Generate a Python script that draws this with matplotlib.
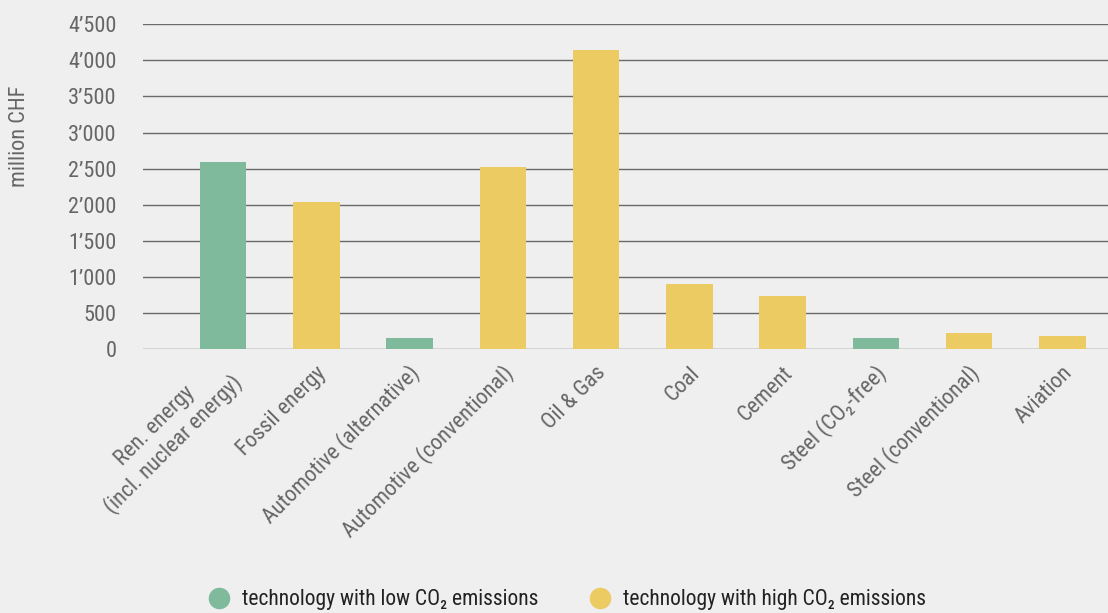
import matplotlib
matplotlib.use("Agg")
import matplotlib.pyplot as plt
from matplotlib.lines import Line2D
from matplotlib.ticker import FuncFormatter

categories = ["Ren. energy\n(incl. nuclear energy)", "Fossil energy", "Automotive (alternative)",
              "Automotive (conventional)", "Oil & Gas", "Coal", "Cement", "Steel (CO₂-free)",
              "Steel (conventional)", "Aviation"]
values = [2590, 2040, 155, 2520, 4140, 900, 735, 152, 222, 180]
low_co2 = [True, False, True, False, False, False, False, True, False, False]
legend_labels = ["technology with low CO₂ emissions", "technology with high CO₂ emissions"]
yticks = [0, 500, 1000, 1500, 2000, 2500, 3000, 3500, 4000, 4500]

GREEN = "#7fba9d"
YELLOW = "#eccb62"
BG = "#efefef"
GREY = "#666666"

plt.rcParams["font.family"] = ["Roboto Condensed", "DejaVu Sans"]

fig = plt.figure(figsize=(11.08, 6.13), dpi=100, facecolor=BG)
ax = fig.add_axes([0.129, 0.4307, 0.871, 0.5297], facecolor=BG)

x = list(range(len(values)))
colors = [GREEN if lo else YELLOW for lo in low_co2]
ax.bar(x, values, width=0.5, color=colors, zorder=3)

ax.set_ylim(0, 4500)
ax.set_xlim(-0.86, 9.49)
ax.set_yticks(yticks)
ax.yaxis.set_major_formatter(FuncFormatter(lambda v, p: f"{int(v):,}".replace(",", "’")))
ax.grid(axis="y", color="#6a6a6a", linewidth=1.0, zorder=0)
ax.tick_params(axis="y", length=0, pad=19, labelsize=16, labelcolor=GREY)
ax.tick_params(axis="x", length=0)
for s in ax.spines.values():
    s.set_visible(False)

ax.set_xticks(x)
ax.set_xticklabels([])
for xi, lab in zip(x, categories):
    ax.annotate(lab, xy=(xi, 0), xycoords=("data", "axes fraction"),
                xytext=(5, -15), textcoords="offset points",
                rotation=45, rotation_mode="anchor", ha="right", va="center",
                multialignment="center", fontsize=16, color=GREY)

fig.text(20 / 1108, 1 - 136 / 613, "million CHF", rotation=90, ha="center", va="center",
         fontsize=16, color=GREY)

handles = [Line2D([], [], marker="o", linestyle="none", markersize=14.5, color=c) for c in (GREEN, YELLOW)]
fig.legend(handles, legend_labels, loc="center", bbox_to_anchor=(567 / 1108, 1 - 600 / 613),
           ncol=2, frameon=False, fontsize=15.5, handlelength=1.0, handletextpad=0.57,
           columnspacing=2.37, labelcolor="#222222")

fig.savefig("out.png", facecolor=BG)
